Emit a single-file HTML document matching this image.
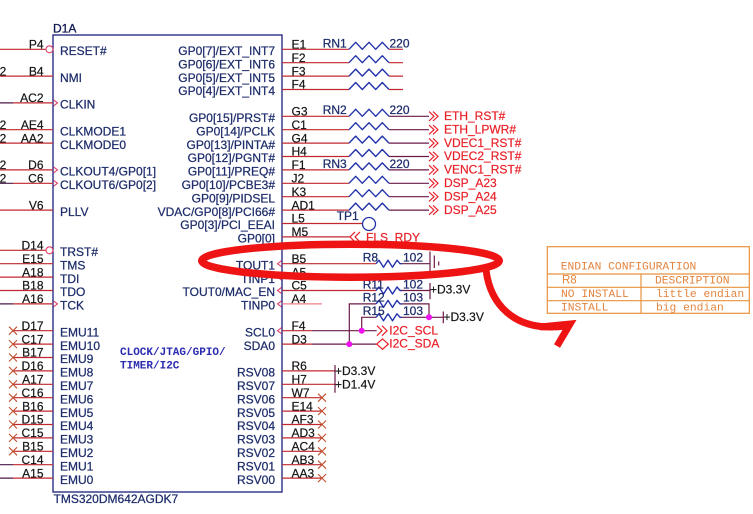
<!DOCTYPE html>
<html><head><meta charset="utf-8"><style>
html,body{margin:0;padding:0;background:#fff;}
svg{display:block;}
text{font-family:"Liberation Sans",Arial,sans-serif;font-size:12px;}
.n{fill:#1e2d6b;stroke:#1e2d6b;stroke-width:0.25;}
.p{fill:#151515;stroke:#151515;stroke-width:0.2;}
.rr{fill:#e82028;stroke:#e82028;stroke-width:0.2;}
.t{fill:#e4843e;font-family:"Liberation Mono","Courier New",monospace;font-size:11.3px;}
.ck{fill:#2a2ab0;font-family:"Liberation Mono","Courier New",monospace;font-size:11px;font-weight:bold;}
</style></head><body>
<svg width="753" height="514" viewBox="0 0 753 514" xmlns="http://www.w3.org/2000/svg">
<rect width="753" height="514" fill="#fff"/>

<!-- box -->
<rect x="53" y="35" width="229" height="457" fill="none" stroke="#1a1f7a" stroke-width="1.3"/>
<text x="53" y="32.5" fill="#0f1850" stroke="#0f1850" stroke-width="0.3">D1A</text>

<!-- LEFT PIN LINES -->
<g stroke="#c0282e" stroke-width="1.2" fill="none">
<path d="M0 49.3H46 M0 76.1H53 M13 102.9H53 M0 129.7H53 M0 143.1H53 M0 169.9H53 M13 183.3H53 M0 210.1H53
M0 250.3H46 M0 263.7H53 M0 277.1H53 M0 290.5H53 M13 303.9H53
M13 330.7H53 M13 344.1H53 M13 357.5H53 M13 370.9H53 M13 384.3H53 M13 397.7H53 M13 411.1H53 M13 424.5H53 M13 437.9H53 M13 451.3H53
M13 464.7H53 M13 478.1H53"/>
</g>
<g stroke="#4a1a4a" stroke-width="1.2">
<path d="M0 102.9H13 M0 183.3H13 M0 303.9H13 M0 464.7H13 M0 478.1H13"/>
</g>
<g stroke="#e0406a" stroke-width="1.1" fill="none">
<circle cx="49.5" cy="49.3" r="3.5"/>
<circle cx="49.5" cy="250.3" r="3.5"/>
<path d="M53.5 99.9L57.5 102.9L53.5 105.9 M53.5 166.9L57.5 169.9L53.5 172.9 M53.5 180.3L57.5 183.3L53.5 186.3 M53.5 300.9L57.5 303.9L53.5 306.9"/>
</g>
<!-- left X marks -->
<g stroke="#c05030" stroke-width="1.1">
<path d="M9 326.7l8 8m-8 0l8-8 M9 340.1l8 8m-8 0l8-8 M9 353.5l8 8m-8 0l8-8 M9 366.9l8 8m-8 0l8-8 M9 380.3l8 8m-8 0l8-8 M9 393.7l8 8m-8 0l8-8 M9 407.1l8 8m-8 0l8-8 M9 420.5l8 8m-8 0l8-8 M9 433.9l8 8m-8 0l8-8 M9 447.3l8 8m-8 0l8-8"/>
</g>

<!-- left fragments "2" -->
<g class="p" text-anchor="end">
<text class="p" x="6.3" y="75.3">2</text>
<text class="p" x="6.3" y="128.9">2</text>
<text class="p" x="6.3" y="142.3">2</text>
<text class="p" x="6.3" y="169.1">2</text>
<text class="p" x="6.3" y="182.5">2</text>
</g>

<!-- left pin numbers -->
<g text-anchor="end">
<text class="p" x="43.5" y="48.5">P4</text>
<text class="p" x="43.5" y="75.3">B4</text>
<text class="p" x="43.5" y="102.1">AC2</text>
<text class="p" x="43.5" y="128.9">AE4</text>
<text class="p" x="43.5" y="142.3">AA2</text>
<text class="p" x="43.5" y="169.1">D6</text>
<text class="p" x="43.5" y="182.5">C6</text>
<text class="p" x="43.5" y="209.3">V6</text>
<text class="p" x="43.5" y="249.5">D14</text>
<text class="p" x="43.5" y="262.9">E15</text>
<text class="p" x="43.5" y="276.3">A18</text>
<text class="p" x="43.5" y="289.7">B18</text>
<text class="p" x="43.5" y="303.1">A16</text>
<text class="p" x="43.5" y="329.9">D17</text>
<text class="p" x="43.5" y="343.3">C17</text>
<text class="p" x="43.5" y="356.7">B17</text>
<text class="p" x="43.5" y="370.1">D16</text>
<text class="p" x="43.5" y="383.5">A17</text>
<text class="p" x="43.5" y="396.9">C16</text>
<text class="p" x="43.5" y="410.3">B16</text>
<text class="p" x="43.5" y="423.7">D15</text>
<text class="p" x="43.5" y="437.1">C15</text>
<text class="p" x="43.5" y="450.5">B15</text>
<text class="p" x="43.5" y="463.9">C14</text>
<text class="p" x="43.5" y="477.3">A15</text>
</g>

<!-- left pin names -->
<g>
<text class="n" x="60" y="55">RESET#</text>
<text class="n" x="60" y="81.8">NMI</text>
<text class="n" x="60" y="108.6">CLKIN</text>
<text class="n" x="60" y="135.4">CLKMODE1</text>
<text class="n" x="60" y="148.8">CLKMODE0</text>
<text class="n" x="60" y="175.6">CLKOUT4/GP0[1]</text>
<text class="n" x="60" y="189">CLKOUT6/GP0[2]</text>
<text class="n" x="60" y="215.8">PLLV</text>
<text class="n" x="60" y="256">TRST#</text>
<text class="n" x="60" y="269.4">TMS</text>
<text class="n" x="60" y="282.8">TDI</text>
<text class="n" x="60" y="296.2">TDO</text>
<text class="n" x="60" y="309.6">TCK</text>
<text class="n" x="60" y="336.4">EMU11</text>
<text class="n" x="60" y="349.8">EMU10</text>
<text class="n" x="60" y="363.2">EMU9</text>
<text class="n" x="60" y="376.6">EMU8</text>
<text class="n" x="60" y="390">EMU7</text>
<text class="n" x="60" y="403.4">EMU6</text>
<text class="n" x="60" y="416.8">EMU5</text>
<text class="n" x="60" y="430.2">EMU4</text>
<text class="n" x="60" y="443.6">EMU3</text>
<text class="n" x="60" y="457">EMU2</text>
<text class="n" x="60" y="470.4">EMU1</text>
<text class="n" x="60" y="483.8">EMU0</text>
</g>

<!-- center label -->
<text class="ck" x="120" y="355">CLOCK/JTAG/GPIO/</text>
<text class="ck" x="120" y="368.3">TIMER/I2C</text>
<text class="n" x="53.5" y="503">TMS320DM642AGDK7</text>

<!-- RIGHT PIN LINES -->
<g stroke="#c0282e" stroke-width="1.2" fill="none">
<path d="M282 49.3H349 M282 62.7H349 M282 76.1H349 M282 89.5H349
M282 116.3H349 M282 129.7H349 M282 143.1H349 M282 156.5H349 M282 169.9H349 M282 183.3H349 M282 196.7H349 M282 210.1H349
M282 223.5H362.5 M282 236.9H350 M282 263.7H376 M282 290.5H376
M282 330.7H312 M282 344.1H312
M282 370.9H335 M282 384.3H335 M282 397.7H322 M282 411.1H322 M282 424.5H322 M282 437.9H322 M282 451.3H322 M282 464.7H322 M282 478.1H322
M389 49.3H403 M389 62.7H403 M389 76.1H403 M389 89.5H403"/>
</g>
<g stroke="#f08088" stroke-width="1.2">
<path d="M282 277.1H322 M282 303.9H322"/>
</g>
<!-- wires -->
<g stroke="#6b1a48" stroke-width="1.2" fill="none">
<path d="M389 116.3H429 M389 129.7H429 M389 143.1H429 M389 156.5H429 M389 169.9H429 M389 183.3H429 M389 196.7H429 M389 210.1H429
M402 263.7H430 M402 290.5H430
M312 330.7H376.7 M312 344.1H376.7
M349.3 344.1V303.9H376 M402 303.9H429V317.3
M361.7 330.7V317.3H376 M402 317.3H443.3"/>
<path d="M430 251.5V272 M434.3 255.5V268 M438.7 261.5V265.5"/>
<path d="M430 283V299.3 M443.3 311.5V323.3 M335 365V392.7"/>
</g>

<!-- right direction markers -->
<g stroke="#e0406a" stroke-width="1.1" fill="none">
<path d="M281.5 260.7L277.5 263.7L281.5 266.7 M281.5 274.1L277.5 277.1L281.5 280.1 M281.5 287.5L277.5 290.5L281.5 293.5 M281.5 300.9L277.5 303.9L281.5 306.9 M281.5 327.7L277.5 330.7L281.5 333.7"/>
</g>

<!-- RSV X marks -->
<g stroke="#c05030" stroke-width="1.1">
<path d="M318 393.7l8 8m-8 0l8-8 M318 407.1l8 8m-8 0l8-8 M318 420.5l8 8m-8 0l8-8 M318 433.9l8 8m-8 0l8-8 M318 447.3l8 8m-8 0l8-8 M318 460.7l8 8m-8 0l8-8 M318 474.1l8 8m-8 0l8-8"/>
</g>

<!-- RN resistors -->
<g stroke="#2233aa" stroke-width="1.4" fill="none" stroke-linejoin="round">
<path d="M349 49.3l6.7-7 6.6 7 6.7-7 6.7 7 6.6-7 6.7 7"/>
<path d="M349 62.7l6.7-7 6.6 7 6.7-7 6.7 7 6.6-7 6.7 7"/>
<path d="M349 76.1l6.7-7 6.6 7 6.7-7 6.7 7 6.6-7 6.7 7"/>
<path d="M349 89.5l6.7-7 6.6 7 6.7-7 6.7 7 6.6-7 6.7 7"/>
<path d="M349 116.3l6.7-7 6.6 7 6.7-7 6.7 7 6.6-7 6.7 7"/>
<path d="M349 129.7l6.7-7 6.6 7 6.7-7 6.7 7 6.6-7 6.7 7"/>
<path d="M349 143.1l6.7-7 6.6 7 6.7-7 6.7 7 6.6-7 6.7 7"/>
<path d="M349 156.5l6.7-7 6.6 7 6.7-7 6.7 7 6.6-7 6.7 7"/>
<path d="M349 169.9l6.7-7 6.6 7 6.7-7 6.7 7 6.6-7 6.7 7"/>
<path d="M349 183.3l6.7-7 6.6 7 6.7-7 6.7 7 6.6-7 6.7 7"/>
<path d="M349 196.7l6.7-7 6.6 7 6.7-7 6.7 7 6.6-7 6.7 7"/>
<path d="M349 210.1l6.7-7 6.6 7 6.7-7 6.7 7 6.6-7 6.7 7"/>
<!-- R zigzags -->
<path d="M376 263.7L379 260.2L383.5 267.2L388 260.2L392.5 267.2L397 260.2L400 263.7H402"/>
<path d="M376 290.5L379 287L383.5 294L388 287L392.5 294L397 287L400 290.5H402"/>
<path d="M376 303.9L379 300.4L383.5 307.4L388 300.4L392.5 307.4L397 300.4L400 303.9H402"/>
<path d="M376 317.3L379 313.8L383.5 320.8L388 313.8L392.5 320.8L397 313.8L400 317.3H402"/>
</g>
<!-- TP1 -->
<circle cx="369" cy="224" r="6.5" fill="none" stroke="#2233aa" stroke-width="1.3"/>

<!-- junctions -->
<g fill="#ee10ee">
<circle cx="349.3" cy="344.1" r="3"/>
<circle cx="361.7" cy="330.7" r="3"/>
<circle cx="429" cy="317.3" r="3"/>
</g>

<!-- net label shapes -->
<g stroke="#e82028" stroke-width="1.2" fill="none">
<path d="M429 111.6L434 116.3L429 121 M433 111.6L438 116.3L433 121"/>
<path d="M429 125L434 129.7L429 134.4 M433 125L438 129.7L433 134.4"/>
<path d="M429 138.4L434 143.1L429 147.8 M433 138.4L438 143.1L433 147.8"/>
<path d="M429 151.8L434 156.5L429 161.2 M433 151.8L438 156.5L433 161.2"/>
<path d="M429 165.2L434 169.9L429 174.6 M433 165.2L438 169.9L433 174.6"/>
<path d="M429 178.6L434 183.3L429 188 M433 178.6L438 183.3L433 188"/>
<path d="M429 192L434 196.7L429 201.4 M433 192L438 196.7L433 201.4"/>
<path d="M429 205.4L434 210.1L429 214.8 M433 205.4L438 210.1L433 214.8"/>
<path d="M355 231.9L350 236.9L355 241.9 M360 231.9L355 236.9L360 241.9"/>
<path d="M377 325.7L382 330.7L377 335.7 M382 325.7L387 330.7L382 335.7"/>
<path d="M376.7 344.1L382.5 338.9L388.3 344.1L382.5 349.3Z"/>
</g>
<g>
<text class="rr" x="444" y="120">ETH_RST#</text>
<text class="rr" x="444" y="133.4">ETH_LPWR#</text>
<text class="rr" x="444" y="146.8">VDEC1_RST#</text>
<text class="rr" x="444" y="160.2">VDEC2_RST#</text>
<text class="rr" x="444" y="173.6">VENC1_RST#</text>
<text class="rr" x="444" y="187">DSP_A23</text>
<text class="rr" x="444" y="200.4">DSP_A24</text>
<text class="rr" x="444" y="213.8">DSP_A25</text>
<text class="rr" x="366" y="241.5">FLS_RDY</text>
<text class="rr" x="389.3" y="334.3">I2C_SCL</text>
<text class="rr" x="389.3" y="347.7">I2C_SDA</text>
</g>

<!-- ref designators / values -->
<g>
<text class="n" x="322.7" y="47.3">RN1</text><text class="n" x="389.5" y="47.3">220</text>
<text class="n" x="322.7" y="114.2">RN2</text><text class="n" x="389.5" y="114.2">220</text>
<text class="n" x="322.7" y="167.8">RN3</text><text class="n" x="389.5" y="167.8">220</text>
<text class="n" x="336.7" y="220">TP1</text>
<text class="n" x="362.7" y="261.5">R8</text><text class="n" x="403" y="261.5">102</text>
<text class="n" x="362.7" y="288.3">R11</text><text class="n" x="403" y="288.3">102</text>
<text class="n" x="362.7" y="301.7">R12</text><text class="n" x="403" y="301.7">103</text>
<text class="n" x="362.7" y="315">R15</text><text class="n" x="403" y="315">103</text>
</g>
<g>
<text class="p" x="430" y="293.5">+D3.3V</text>
<text class="p" x="443.5" y="321">+D3.3V</text>
<text class="p" x="335" y="375">+D3.3V</text>
<text class="p" x="335" y="388.3">+D1.4V</text>
</g>

<!-- right pin numbers -->
<g>
<text class="p" x="291.5" y="48.5">E1</text>
<text class="p" x="291.5" y="61.9">F2</text>
<text class="p" x="291.5" y="75.3">F3</text>
<text class="p" x="291.5" y="88.7">F4</text>
<text class="p" x="291.5" y="115.5">G3</text>
<text class="p" x="291.5" y="128.9">C1</text>
<text class="p" x="291.5" y="142.3">G4</text>
<text class="p" x="291.5" y="155.7">H4</text>
<text class="p" x="291.5" y="169.1">F1</text>
<text class="p" x="291.5" y="182.5">J2</text>
<text class="p" x="291.5" y="195.9">K3</text>
<text class="p" x="291.5" y="209.3">AD1</text>
<text class="p" x="291.5" y="222.7">L5</text>
<text class="p" x="291.5" y="236.1">M5</text>
<text class="p" x="291.5" y="262.9">B5</text>
<text class="p" x="291.5" y="276.3">A5</text>
<text class="p" x="291.5" y="289.7">C5</text>
<text class="p" x="291.5" y="303.1">A4</text>
<text class="p" x="291.5" y="329.9">F4</text>
<text class="p" x="291.5" y="343.3">D3</text>
<text class="p" x="291.5" y="370.1">R6</text>
<text class="p" x="291.5" y="383.5">H7</text>
<text class="p" x="291.5" y="396.9">W7</text>
<text class="p" x="291.5" y="410.3">E14</text>
<text class="p" x="291.5" y="423.7">AF3</text>
<text class="p" x="291.5" y="437.1">AD3</text>
<text class="p" x="291.5" y="450.5">AC4</text>
<text class="p" x="291.5" y="463.9">AB3</text>
<text class="p" x="291.5" y="477.3">AA3</text>
</g>

<!-- right pin names -->
<g text-anchor="end">
<text class="n" x="275" y="55">GP0[7]/EXT_INT7</text>
<text class="n" x="275" y="68.4">GP0[6]/EXT_INT6</text>
<text class="n" x="275" y="81.8">GP0[5]/EXT_INT5</text>
<text class="n" x="275" y="95.2">GP0[4]/EXT_INT4</text>
<text class="n" x="275" y="122">GP0[15]/PRST#</text>
<text class="n" x="275" y="135.4">GP0[14]/PCLK</text>
<text class="n" x="275" y="148.8">GP0[13]/PINTA#</text>
<text class="n" x="275" y="162.2">GP0[12]/PGNT#</text>
<text class="n" x="275" y="175.6">GP0[11]/PREQ#</text>
<text class="n" x="275" y="189">GP0[10]/PCBE3#</text>
<text class="n" x="275" y="202.4">GP0[9]/PIDSEL</text>
<text class="n" x="275" y="215.8">VDAC/GP0[8]/PCI66#</text>
<text class="n" x="275" y="229.2">GP0[3]/PCI_EEAI</text>
<text class="n" x="275" y="242.6">GP0[0]</text>
<text class="n" x="275" y="269.4">TOUT1</text>
<text class="n" x="275" y="282.8">TINP1</text>
<text class="n" x="275" y="296.2">TOUT0/MAC_EN</text>
<text class="n" x="275" y="309.6">TINP0</text>
<text class="n" x="275" y="336.4">SCL0</text>
<text class="n" x="275" y="349.8">SDA0</text>
<text class="n" x="275" y="376.6">RSV08</text>
<text class="n" x="275" y="390">RSV07</text>
<text class="n" x="275" y="403.4">RSV06</text>
<text class="n" x="275" y="416.8">RSV05</text>
<text class="n" x="275" y="430.2">RSV04</text>
<text class="n" x="275" y="443.6">RSV03</text>
<text class="n" x="275" y="457">RSV02</text>
<text class="n" x="275" y="470.4">RSV01</text>
<text class="n" x="275" y="483.8">RSV00</text>
</g>

<!-- endian table -->
<g stroke="#e8923e" stroke-width="1.2" fill="none">
<rect x="547.3" y="246.7" width="202" height="66.6"/>
<path d="M547.3 274H749.3 M547.3 287.3H749.3 M547.3 300.7H749.3 M641 274V313.3"/>
</g>
<text class="t" x="560.7" y="269.5">ENDIAN CONFIGURATION</text>
<text x="562" y="283.5" fill="#e4843e" style="font-size:11.5px">R8</text>
<text class="t" x="655" y="283.5">DESCRIPTION</text>
<text class="t" x="561" y="297">NO INSTALL</text>
<text class="t" x="656" y="297">little endian</text>
<text class="t" x="561" y="310.4">INSTALL</text>
<text class="t" x="656" y="310.4">big endian</text>

<!-- annotation ellipse + arrow -->
<g stroke="#ee1414" fill="none" stroke-width="7.5">
<ellipse cx="350.5" cy="260.7" rx="148.75" ry="16.5"/>
<path d="M486 270C490 302 512 333 566 326" stroke-width="7"/>
<path d="M557 346L570 324L540 327" stroke-width="7" stroke-linejoin="miter"/>
</g>
</svg>
</body></html>
